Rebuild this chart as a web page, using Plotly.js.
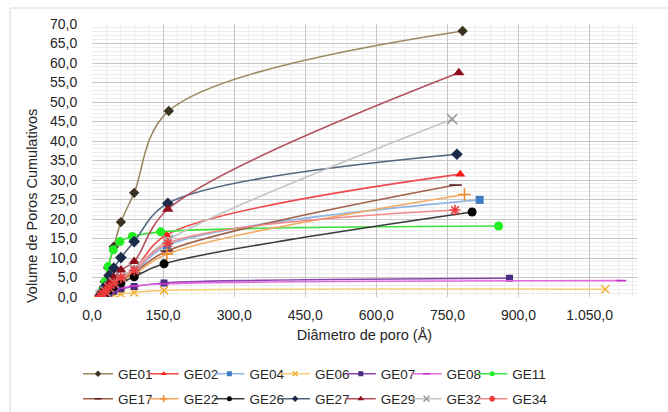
<!DOCTYPE html>
<html>
<head>
<meta charset="utf-8">
<script src="https://cdn.plot.ly/plotly-3.0.1.min.js"></script>
<style>
  html, body { margin: 0; padding: 0; background: #fff; }
  #chart { width: 668px; height: 412px; }
</style>
</head>
<body>
<div id="chart"></div>
<script>
// Cumulative pore volume vs pore diameter (BJH) for each sample
const names = ['GE01','GE02','GE04','GE06','GE07','GE08','GE11',
               'GE17','GE22','GE26','GE27','GE29','GE32','GE34'];

// pore diameter (Å)
const xGE01 = [18, 22, 27, 34, 46, 61, 89, 162, 782];
const xGE02 = [18, 23, 28, 36, 46, 61, 89, 157, 777];
const xGE04 = [18, 23, 28, 36, 46, 61, 89, 158, 818];
const xGE06 = [18, 23, 28, 36, 46, 61, 89, 152, 1083];
const xGE07 = [18, 23, 28, 36, 46, 61, 89, 152, 881];
const xGE08 = [18, 23, 28, 36, 46, 61, 89, 152, 1117];
const xGE11 = [17, 22, 28, 34, 45, 59, 85, 145, 858];
const xGE17 = [18, 23, 28, 36, 46, 61, 89, 158, 767];
const xGE22 = [18, 23, 28, 36, 46, 61, 89, 158, 786];
const xGE26 = [18, 23, 28, 36, 46, 61, 89, 152, 802];
const xGE27 = [18, 22, 27, 36, 46, 61, 89, 160, 770];
const xGE29 = [18, 23, 28, 36, 46, 61, 89, 160, 774];
const xGE32 = [18, 23, 28, 36, 46, 61, 89, 160, 760];
const xGE34 = [18, 23, 28, 36, 46, 61, 89, 160, 766];

// cumulative pore volume
const yGE01 = [0.6, 1.8, 3.9, 7.5, 12.9, 19.2, 26.7, 47.7, 68.2];
const yGE02 = [0.3, 0.8, 1.5, 2.5, 3.6, 5.0, 7.0, 15.9, 31.5];
const yGE04 = [0.2, 0.6, 1.2, 2.0, 3.0, 4.3, 6.2, 13.2, 24.9];
const yGE06 = [0.05, 0.1, 0.2, 0.4, 0.6, 0.8, 1.2, 1.7, 2.0];
const yGE07 = [0.1, 0.3, 0.6, 1.0, 1.5, 2.1, 2.7, 3.6, 4.8];
const yGE08 = [0.1, 0.3, 0.6, 1.0, 1.6, 2.3, 2.8, 3.4, 4.2];
const yGE11 = [0.6, 1.8, 4.0, 7.8, 12.1, 14.2, 15.5, 16.7, 18.2];
const yGE17 = [0.3, 0.7, 1.3, 2.2, 3.2, 4.4, 6.2, 11.8, 28.7];
const yGE22 = [0.2, 0.6, 1.1, 2.0, 3.0, 4.1, 5.8, 11.0, 26.3];
const yGE26 = [0.2, 0.6, 1.0, 1.8, 2.6, 3.6, 5.2, 8.5, 21.8];
const yGE27 = [0.5, 1.3, 2.6, 5.5, 7.4, 10.1, 14.2, 24.0, 36.6];
const yGE29 = [0.4, 1.0, 2.0, 3.5, 5.0, 6.9, 9.1, 22.5, 57.5];
const yGE32 = [0.3, 0.8, 1.5, 2.5, 3.7, 5.2, 7.3, 14.6, 45.6];
const yGE34 = [0.3, 0.8, 1.4, 2.4, 3.5, 4.9, 6.8, 13.8, 22.3];

const xs = [xGE01, xGE02, xGE04, xGE06, xGE07, xGE08, xGE11,
            xGE17, xGE22, xGE26, xGE27, xGE29, xGE32, xGE34];
const ys = [yGE01, yGE02, yGE04, yGE06, yGE07, yGE08, yGE11,
            yGE17, yGE22, yGE26, yGE27, yGE29, yGE32, yGE34];

const xTicks = [0, 150, 300, 450, 600, 750, 900, 1050];
const xTickText = ['0,0', '150,0', '300,0', '450,0', '600,0', '750,0', '900,0', '1.050,0'];
const yTicks = [0, 5, 10, 15, 20, 25, 30, 35, 40, 45, 50, 55, 60, 65, 70];
const yTickText = ['0,0', '5,0', '10,0', '15,0', '20,0', '25,0', '30,0', '35,0',
                   '40,0', '45,0', '50,0', '55,0', '60,0', '65,0', '70,0'];

// series styling: [line colour, marker colour, symbol, size, open?]
const styles = [
  ['#9a8a62', '#3b3222', 'diamond', 8, false],
  ['#f04a4a', '#ff1a1a', 'triangle-up', 9, false],
  ['#93b7e3', '#3f7cc6', 'square', 8, false],
  ['#f9cd76', '#f0b43a', 'x-thin-open', 8, true],
  ['#8a45ad', '#4a2c80', 'square', 7, false],
  ['#e46ae4', '#c030c0', 'line-ew-open', 7, true],
  ['#3ee23e', '#22ee22', 'circle', 9, false],
  ['#a0604a', '#5a1a1a', 'line-ew-open', 9, true],
  ['#f5a860', '#ef8a2e', 'cross-thin-open', 9, true],
  ['#3a3a3a', '#050505', 'circle', 9, false],
  ['#52647e', '#1c2a4a', 'diamond', 9, false],
  ['#b4505e', '#8e0e1c', 'triangle-up', 10, false],
  ['#c4c4c4', '#9c9c9c', 'x-thin-open', 10, true],
  ['#f28888', '#ee3a3a', 'asterisk-open', 9, true]
];

function markerFor(s, size) {
  const m = { symbol: s[2], size: size, color: s[1] };
  m.line = s[4] ? { color: s[1], width: 1.6 } : { width: 0 };
  return m;
}

// plotted series (legend entries come from the key traces below)
const data = names.map((n, i) => ({
  type: 'scatter',
  mode: 'lines+markers',
  name: n,
  x: xs[i],
  y: ys[i],
  line: { color: styles[i][0], width: 1.6, shape: 'spline', smoothing: 1 },
  marker: markerFor(styles[i], styles[i][3]),
  showlegend: false
}));

// key entries with small symbols, split over two rows
names.forEach((n, i) => {
  data.push({
    type: 'scatter',
    mode: 'lines+markers',
    name: n,
    x: [null], y: [null],
    line: { color: styles[i][0], width: 1.6 },
    marker: markerFor(styles[i], Math.max(5, styles[i][3] - 4)),
    showlegend: true,
    legend: i < 7 ? 'legend' : 'legend2',
    legendwidth: (i === 6 || i === 13) ? 40 : undefined,
    hoverinfo: 'skip'
  });
});

const W = 668, H = 412;
const mL = 92, mR = 31, mT = 24, mB = 115;
const pw = W - mL - mR, ph = H - mT - mB;
const px = v => (v - mL) / pw;          // pixel -> paper x
const py = v => (H - mB - v) / ph;      // pixel -> paper y

const font = { family: 'Liberation Sans, Arial, sans-serif', color: '#262626' };

const legendCommon = {
  orientation: 'h',
  xanchor: 'left', yanchor: 'middle',
  x: px(78),
  bgcolor: 'rgba(0,0,0,0)',
  borderwidth: 0,
  entrywidthmode: 'pixels',
  entrywidth: 20.7,
  itemwidth: 30,
  font: { family: font.family, size: 13.5, color: '#262626' }
};

const layout = {
  width: W, height: H,
  margin: { l: mL, r: mR, t: mT, b: mB, autoexpand: false },
  paper_bgcolor: '#ffffff',
  plot_bgcolor: '#ffffff',
  font: font,
  showlegend: true,
  legend: Object.assign({}, legendCommon, { y: py(374) }),
  legend2: Object.assign({}, legendCommon, { y: py(399) }),
  xaxis: {
    range: [0, 1150],
    tickvals: xTicks, ticktext: xTickText,
    tickfont: { size: 14, color: '#262626' },
    showgrid: true, gridcolor: '#c6c6c6', gridwidth: 1,
    minor: { dtick: 30, showgrid: true, gridcolor: '#ececec', gridwidth: 1 },
    zeroline: false, showline: false, ticks: 'outside', ticklen: 5, tickcolor: 'rgba(0,0,0,0)',
    automargin: false,
    title: { text: 'Diâmetro de poro (Å)', font: { size: 14.5, color: '#262626' }, standoff: 8 },
    fixedrange: true
  },
  yaxis: {
    range: [0, 70],
    tickvals: yTicks, ticktext: yTickText,
    tickfont: { size: 14, color: '#262626' },
    showgrid: true, gridcolor: '#c6c6c6', gridwidth: 1,
    minor: { dtick: 1, showgrid: true, gridcolor: '#ececec', gridwidth: 1 },
    zeroline: false, showline: false, ticks: 'outside', ticklen: 11, tickcolor: 'rgba(0,0,0,0)',
    automargin: false,
    fixedrange: true
  },
  annotations: [{
    text: 'Volume de Poros Cumulativos',
    textangle: -90,
    xref: 'paper', yref: 'paper',
    x: px(32), y: py(206),
    xanchor: 'center', yanchor: 'middle',
    showarrow: false,
    font: { size: 14.5, color: '#262626' }
  }],
  shapes: [{
    type: 'rect', xref: 'paper', yref: 'paper',
    x0: px(10), x1: px(700), y0: py(430), y1: py(8),
    line: { color: '#d9d9d9', width: 1 },
    layer: 'below'
  }]
};

Plotly.newPlot('chart', data, layout, { staticPlot: true, displayModeBar: false });
</script>
</body>
</html>
